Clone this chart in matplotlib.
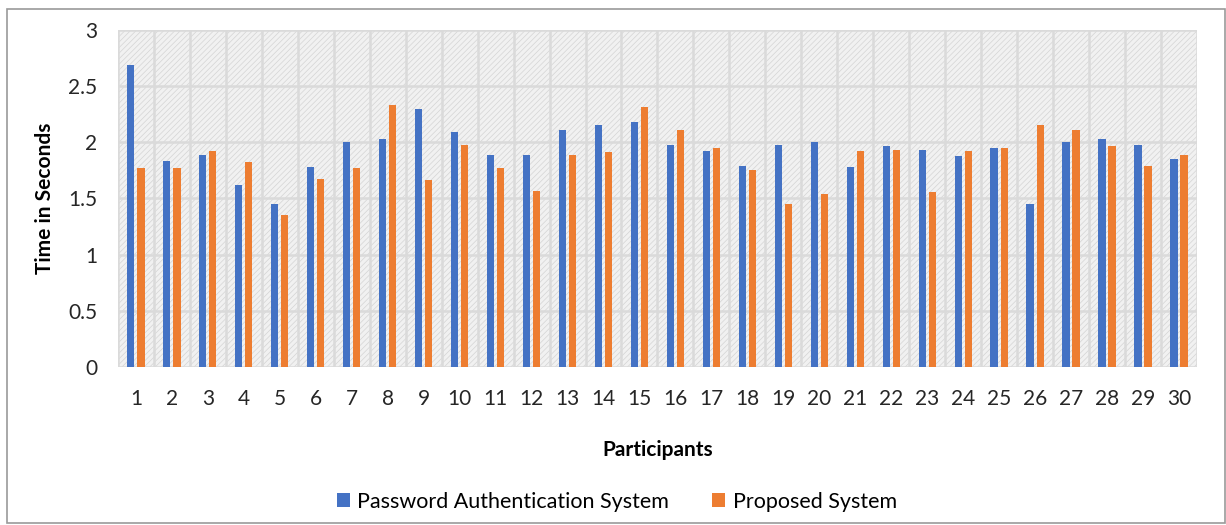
import numpy as np
import matplotlib.pyplot as plt
from matplotlib.patches import Rectangle

participants = list(range(1, 31))
password_sys = [2.69, 1.83, 1.89, 1.62, 1.45, 1.78, 2.00, 2.03, 2.30, 2.09,
                1.89, 1.89, 2.11, 2.15, 2.18, 1.98, 1.92, 1.79, 1.98, 2.00,
                1.78, 1.97, 1.93, 1.88, 1.95, 1.45, 2.00, 2.03, 1.98, 1.85]
proposed_sys = [1.77, 1.77, 1.92, 1.82, 1.35, 1.67, 1.77, 2.33, 1.66, 1.98,
                1.77, 1.57, 1.89, 1.91, 2.31, 2.11, 1.95, 1.75, 1.45, 1.54,
                1.92, 1.93, 1.56, 1.92, 1.95, 2.15, 2.11, 1.97, 1.79, 1.89]
series_names = ['Password Authentication System', 'Proposed System']
yticks = [0, 0.5, 1, 1.5, 2, 2.5, 3]

plt.rcParams['font.family'] = ['Lato', 'DejaVu Sans']
plt.rcParams['hatch.linewidth'] = 0.5

fig = plt.figure(figsize=(12.26, 5.25), dpi=100)
ax = fig.add_axes([0.0962, 0.301, 0.8801, 0.642])

# outer chart frame
fig.patches.append(Rectangle((0.0057, 0.004), 0.9935, 0.979, transform=fig.transFigure,
                             fill=False, edgecolor='#9a9a9a', lw=1.2))

x = np.arange(len(participants))
w = 0.2
ax.set_facecolor('#f1f1f1')
# fine textured background like the original
ax.add_patch(Rectangle((-0.5, 0), len(participants), 3, facecolor='none',
                       hatch='//////', edgecolor='#d4d4d4', lw=0, zorder=0))
ax.bar(x - 0.14, password_sys, w, color='#4472C4', label=series_names[0], zorder=3)
ax.bar(x + 0.14, proposed_sys, w, color='#ED7D31', label=series_names[1], zorder=3)

ax.set_xlim(-0.5, len(participants) - 0.5)
ax.set_ylim(0, 3)
ax.set_yticks(yticks)
ax.set_yticklabels(['0', '0.5', '1', '1.5', '2', '2.5', '3'])
ax.set_xticks(x)
ax.set_xticklabels([str(p) for p in participants])
ax.set_xticks(np.arange(-0.5, len(participants)), minor=True)
ax.grid(axis='y', which='major', color='#dadada', lw=1.8, zorder=1)
ax.grid(axis='x', which='minor', color='#dadada', lw=1.8, zorder=1)
ax.tick_params(axis='both', which='both', length=0, labelsize=15, colors='#262626')
ax.tick_params(axis='x', pad=16)
ax.tick_params(axis='y', pad=15)
for s in ax.spines.values():
    s.set_visible(False)

ax.set_ylabel('Time in Seconds', fontsize=15, fontweight='bold', labelpad=9)
ax.set_xlabel('Participants', fontsize=15, fontweight='bold', labelpad=22)

fig.legend(loc='center', bbox_to_anchor=(0.503, 0.044), ncol=2, frameon=False,
           fontsize=15.5, handlelength=0.6, handleheight=0.6, columnspacing=2.0,
           handletextpad=0.35)

fig.savefig('out.png', dpi=100)
